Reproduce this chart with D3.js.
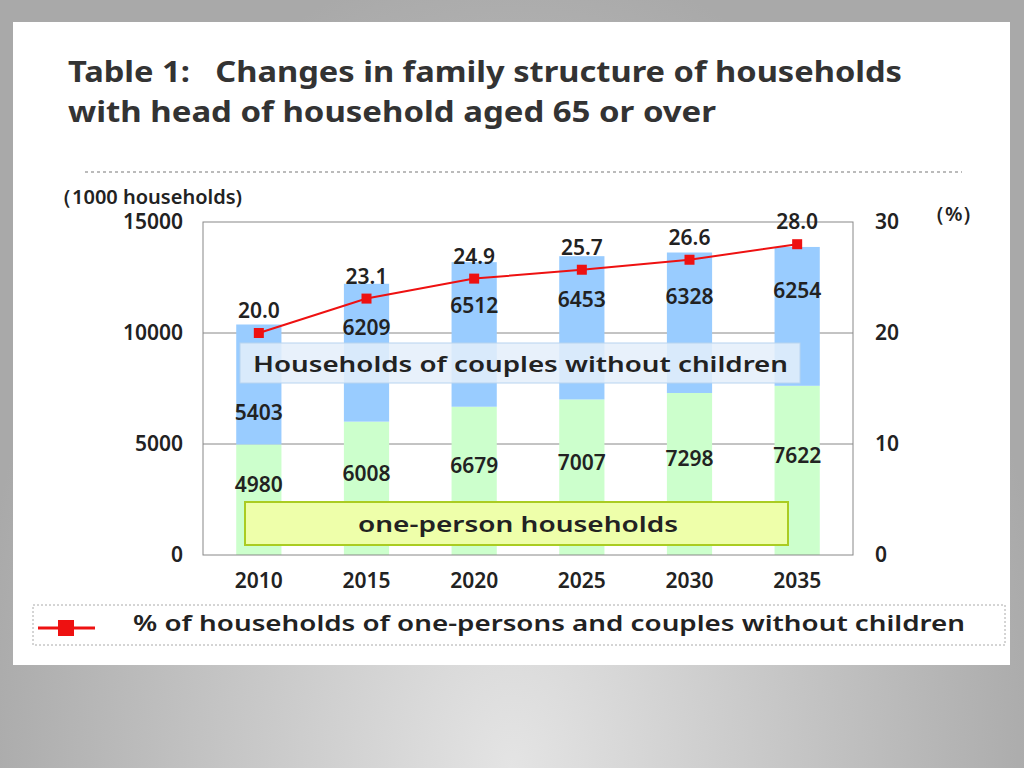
<!DOCTYPE html>
<html><head><meta charset="utf-8">
<script src="https://cdn.jsdelivr.net/npm/d3@7"></script>
<style>
body{margin:0;width:1024px;height:768px;overflow:hidden;background:radial-gradient(ellipse at 50% 100%,#e4e4e4 0%,#a9a9a9 75%);}
svg{font-family:"Noto Sans","Open Sans",sans-serif;}
</style></head><body>
<svg id="c" width="1024" height="768"></svg>
<script>
const years = ['2010','2015','2020','2025','2030','2035']
const onePerson = [4980, 6008, 6679, 7007, 7298, 7622]
const couples = [5403, 6209, 6512, 6453, 6328, 6254]
const share = [20.0, 23.1, 24.9, 25.7, 26.6, 28.0]
const leftTicks = [0, 5000, 10000, 15000]
const rightTicks = [0, 10, 20, 30]

const svg = d3.select('#c')
svg.append('rect').attr('x',13).attr('y',22).attr('width',997).attr('height',643).attr('fill','#fff')

svg.append('text').attr('x',68).attr('y',82).attr('font-size',28).attr('font-weight',700).attr('fill','#333')
	.attr('xml:space','preserve').attr('textLength',834).attr('lengthAdjust','spacingAndGlyphs')
	.text('Table 1:   Changes in family structure of households')
svg.append('text').attr('x',68).attr('y',122).attr('font-size',28).attr('font-weight',700).attr('fill','#333')
	.attr('textLength',648).attr('lengthAdjust','spacingAndGlyphs')
	.text('with head of household aged 65 or over')
svg.append('line').attr('x1',85).attr('x2',962).attr('y1',172).attr('y2',172)
	.attr('stroke','#bbb').attr('stroke-width',2).attr('stroke-dasharray','3,3')

const m = {left:203, right:853, top:222, bottom:555}
const x = d3.scaleBand().domain(years).range([m.left+2, m.right-2]).paddingInner(0.58).paddingOuter(0.29)
const y = d3.scaleLinear().domain([0,15000]).range([m.bottom, m.top])
const y2 = d3.scaleLinear().domain([0,30]).range([m.bottom, m.top])

const g = svg.append('g')
g.selectAll('.grid').data([5000,10000]).join('line')
	.attr('x1',m.left).attr('x2',m.right).attr('y1',d=>y(d)).attr('y2',d=>y(d)).attr('stroke','#888')

g.selectAll('.g').data(years).join('rect')
	.attr('x',d=>x(d)).attr('width',x.bandwidth())
	.attr('y',(d,i)=>y(onePerson[i])).attr('height',(d,i)=>y(0)-y(onePerson[i]))
	.attr('fill','#ccffcc')
g.selectAll('.b').data(years).join('rect')
	.attr('x',d=>x(d)).attr('width',x.bandwidth())
	.attr('y',(d,i)=>y(onePerson[i]+couples[i])).attr('height',(d,i)=>y(0)-y(couples[i]))
	.attr('fill','#99ccff')

g.append('rect').attr('x',m.left).attr('y',m.top).attr('width',m.right-m.left).attr('height',m.bottom-m.top)
	.attr('fill','none').attr('stroke','#888')

// annotation boxes
g.append('rect').attr('x',240).attr('y',343).attr('width',560).attr('height',40)
	.attr('fill','#e4eefa').attr('fill-opacity',0.85).attr('stroke','#b8d4f0')
g.append('text').attr('x',253).attr('y',372).attr('font-size',22).attr('font-weight',600).attr('fill','#222')
	.attr('textLength',535).attr('lengthAdjust','spacingAndGlyphs')
	.text('Households of couples without children')
g.append('rect').attr('x',245).attr('y',502).attr('width',543).attr('height',43)
	.attr('fill','#eeffaa').attr('stroke','#aacc22').attr('stroke-width',2)
g.append('text').attr('x',358).attr('y',532).attr('font-size',22).attr('font-weight',600).attr('fill','#222')
	.attr('textLength',320).attr('lengthAdjust','spacingAndGlyphs')
	.text('one-person households')

const cx = d => x(d)+x.bandwidth()/2
const lab = sel => sel.attr('text-anchor','middle').attr('font-size',21).attr('font-weight',600).attr('fill','#222')
lab(g.selectAll('.gl').data(years).join('text')
	.attr('x',cx).attr('y',(d,i)=>y(onePerson[i])+48+(onePerson[i]-onePerson[0])/(onePerson[5]-onePerson[0])*29))
	.text((d,i)=>onePerson[i])
lab(g.selectAll('.bl').data(years).join('text')
	.attr('x',cx).attr('y',(d,i)=> i===0 ? y(onePerson[i])-24 : y(onePerson[i]+couples[i])+51))
	.text((d,i)=>couples[i])

// line
g.append('path').datum(share)
	.attr('d',d3.line().x((d,i)=>cx(years[i])).y(d=>y2(d)))
	.attr('fill','none').attr('stroke','#ee1111').attr('stroke-width',2)
g.selectAll('.pt').data(share).join('rect')
	.attr('x',(d,i)=>cx(years[i])-5).attr('y',d=>y2(d)-5).attr('width',10).attr('height',10).attr('fill','#ee1111')
lab(g.selectAll('.pl').data(share).join('text')
	.attr('x',(d,i)=>cx(years[i])).attr('y',d=>y2(d)-15))
	.text(d=>d.toFixed(1))

// axes
const la = svg.append('g').attr('transform','translate('+m.left+',0)')
	.call(d3.axisLeft(y).tickValues(leftTicks).tickFormat(d3.format('d')).tickSize(0).tickPadding(20))
const ra = svg.append('g').attr('transform','translate('+m.right+',0)')
	.call(d3.axisRight(y2).tickValues(rightTicks).tickSize(0).tickPadding(22))
const xa = svg.append('g').attr('transform','translate(0,'+m.bottom+')')
	.call(d3.axisBottom(x).tickSize(0).tickPadding(18))
;[la,ra,xa].forEach(a=>{
	a.select('.domain').remove()
	a.selectAll('text').attr('font-size',21).attr('font-weight',600).attr('fill','#222').attr('font-family','"Noto Sans",sans-serif')
})
svg.append('text').attr('x',52).attr('y',204).attr('font-size',20).attr('font-weight',600).attr('fill','#222').text('（1000 households)')
svg.append('text').attr('x',925).attr('y',221).attr('font-size',20).attr('font-weight',600).attr('fill','#222').text('（%）')

// legend
svg.append('rect').attr('x',33).attr('y',605).attr('width',972).attr('height',40)
	.attr('fill','#fff').attr('stroke','#aaa').attr('stroke-dasharray','2,2')
svg.append('line').attr('x1',38).attr('x2',95).attr('y1',628).attr('y2',628).attr('stroke','#ee1111').attr('stroke-width',3)
svg.append('rect').attr('x',58).attr('y',620).attr('width',16).attr('height',16).attr('fill','#ee1111')
svg.append('text').attr('x',133).attr('y',631).attr('font-size',22).attr('font-weight',600).attr('fill','#222')
	.attr('textLength',832).attr('lengthAdjust','spacingAndGlyphs')
	.text('% of households of one-persons and couples without children')
</script></body></html>
